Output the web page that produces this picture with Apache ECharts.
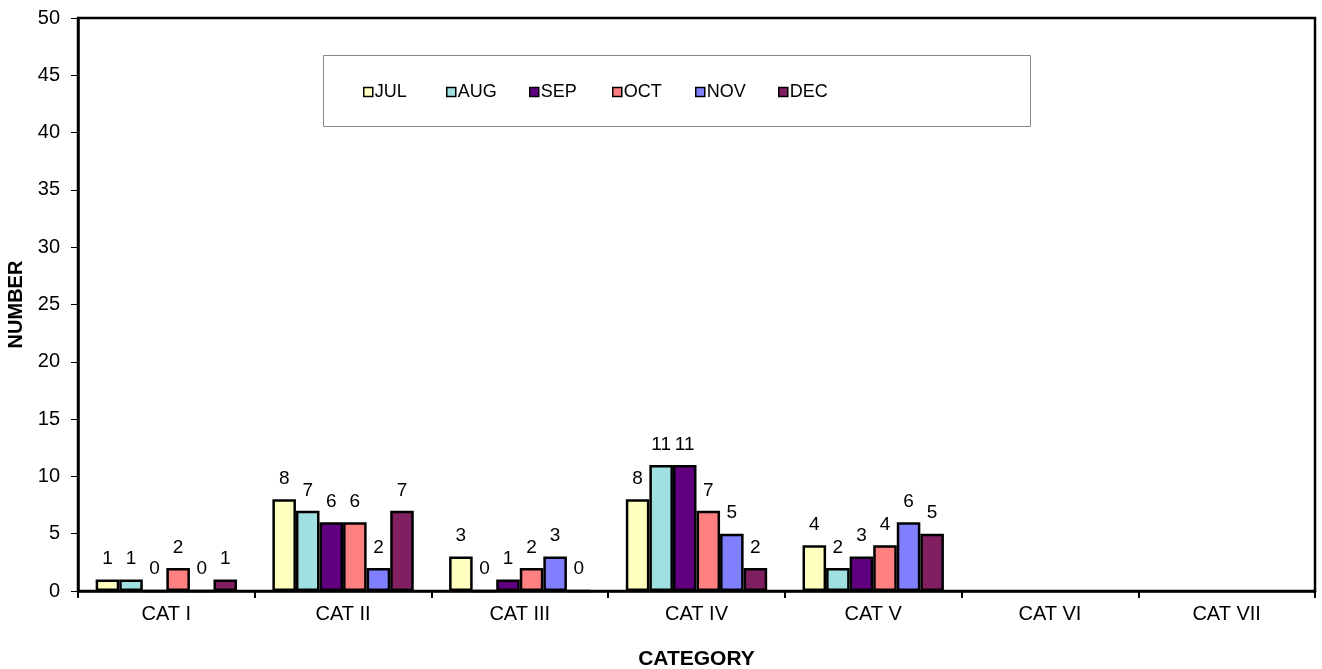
<!DOCTYPE html>
<html><head><meta charset="utf-8">
<script src="https://cdn.jsdelivr.net/npm/echarts@6/dist/echarts.min.js"></script>
<style>html,body{margin:0;padding:0;background:#fff}#c{width:1322px;height:669px}</style>
</head><body><div id="c"></div>
<script>
const categories = ['CAT I','CAT II','CAT III','CAT IV','CAT V','CAT VI','CAT VII'];
const JUL = [1,8,3,8,4,null,null];
const AUG = [1,7,0,11,2,null,null];
const SEP = [0,6,1,11,3,null,null];
const OCT = [2,6,2,7,4,null,null];
const NOV = [0,2,3,5,6,null,null];
const DEC = [1,7,0,2,5,null,null];
const seriesNames = ['JUL','AUG','SEP','OCT','NOV','DEC'];
const seriesData = [JUL,AUG,SEP,OCT,NOV,DEC];
const colors = ['#FFFFC0','#A0E0E0','#600080','#FF8080','#8080FF','#802060'];
const font = '"Liberation Sans", Arial, sans-serif';

const chart = echarts.init(document.getElementById('c'));
chart.setOption({
  animation:false,
  textStyle:{fontFamily:font},
  grid:{left:78,right:7,top:18,bottom:78,show:true,borderColor:'#000',borderWidth:2.5,
    backgroundColor:'transparent',containLabel:false,outerBoundsMode:'none'},
  legend: seriesNames.map((n,i)=>({
    left:358 + i*83, top:78, itemWidth:9, itemHeight:9, itemGap:0,
    icon:'rect', selectedMode:false,
    itemStyle:{borderColor:'#000',borderWidth:1.5},
    textStyle:{fontSize:18,color:'#000',fontFamily:font,padding:[0,0,0,-3]},
    data:[n]
  })),
  graphic:[{type:'rect',shape:{x:323.5,y:55.5,width:707,height:71},style:{fill:'none',stroke:'#888',lineWidth:1},z:-1}],
  xAxis:{
    type:'category',data:categories,
    axisLine:{lineStyle:{color:'#000',width:2.5}},
    axisTick:{show:true,alignWithLabel:false,length:7,lineStyle:{color:'#000',width:2}},
    axisLabel:{color:'#000',fontSize:20,margin:13,fontFamily:font},
    name:'CATEGORY',nameLocation:'middle',nameGap:58,
    nameTextStyle:{fontWeight:'bold',fontSize:21,color:'#000',fontFamily:font}
  },
  yAxis:{
    type:'value',min:0,max:50,interval:5,
    axisLine:{show:true,lineStyle:{color:'#000',width:2.5}},
    axisTick:{show:true,length:7,lineStyle:{color:'#000',width:1}},
    splitLine:{show:false},
    axisLabel:{color:'#000',fontSize:20,margin:18,fontFamily:font},
    name:'NUMBER',nameLocation:'middle',nameGap:50,nameRotate:90,
    nameTextStyle:{fontWeight:'bold',fontSize:20,color:'#000',fontFamily:font}
  },
  series: seriesNames.map((n,i)=>({
    name:n,type:'bar',data:seriesData[i],
    barGap:'0%',barCategoryGap:'20%',
    itemStyle:{color:colors[i],borderColor:'#000',borderWidth:2.5},
    label:{show:true,position:'top',distance:10,color:'#000',fontSize:19,fontFamily:font,
      backgroundColor:'#fff',padding:[1,3],
      formatter:p=>p.value==null?'':String(p.value)}
  }))
});
</script></body></html>
